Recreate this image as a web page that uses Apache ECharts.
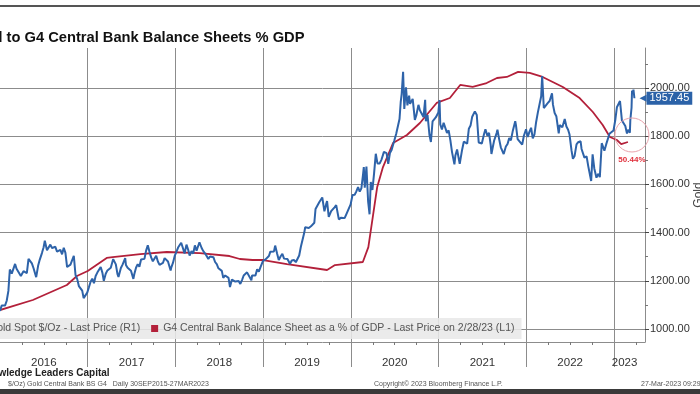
<!DOCTYPE html>
<html><head><meta charset="utf-8">
<script src="https://cdn.jsdelivr.net/npm/echarts@6/dist/echarts.min.js"></script>
<style>html,body{margin:0;padding:0;background:#fff;}#c{width:700px;height:394px;}</style>
</head><body><div id="c"></div>
<script>
// Gold spot $/oz (right axis)
const goldSpot = [
['2016-01-01',1075],['2016-01-08',1097],['2016-01-15',1090],['2016-01-22',1097],['2016-01-29',1117],['2016-02-05',1158],['2016-02-11',1247],['2016-02-19',1230],['2016-02-26',1222],['2016-03-04',1270],['2016-03-10',1250],['2016-03-18',1255],['2016-03-28',1220],['2016-04-08',1240],['2016-04-15',1234],['2016-04-22',1232],['2016-04-29',1291],['2016-05-06',1290],['2016-05-13',1272],['2016-05-20',1252],['2016-05-31',1215],['2016-06-08',1262],['2016-06-15',1288],['2016-06-24',1315],['2016-07-01',1339],['2016-07-06',1366],['2016-07-15',1327],['2016-07-22',1322],['2016-07-29',1350],['2016-08-05',1336],['2016-08-12',1335],['2016-08-19',1341],['2016-08-26',1321],['2016-09-02',1324],['2016-09-09',1328],['2016-09-16',1310],['2016-09-23',1337],['2016-09-30',1316],['2016-10-07',1257],['2016-10-14',1251],['2016-10-21',1267],['2016-10-28',1274],['2016-11-04',1304],['2016-11-11',1225],['2016-11-18',1208],['2016-11-25',1178],['2016-12-02',1177],['2016-12-09',1159],['2016-12-15',1128],['2016-12-23',1132],['2016-12-30',1151],
['2017-01-06',1173],['2017-01-13',1196],['2017-01-20',1209],['2017-01-27',1190],['2017-02-03',1220],['2017-02-10',1234],['2017-02-17',1238],['2017-02-24',1257],['2017-03-03',1234],['2017-03-09',1200],['2017-03-17',1229],['2017-03-24',1243],['2017-03-31',1249],['2017-04-07',1254],['2017-04-17',1290],['2017-04-21',1284],['2017-04-28',1268],['2017-05-05',1227],['2017-05-09',1216],['2017-05-19',1253],['2017-05-26',1267],['2017-06-06',1294],['2017-06-09',1266],['2017-06-16',1254],['2017-06-23',1256],['2017-06-30',1242],['2017-07-10',1208],['2017-07-14',1228],['2017-07-21',1254],['2017-07-28',1269],['2017-08-04',1258],['2017-08-11',1288],['2017-08-18',1285],['2017-08-25',1291],['2017-09-01',1325],['2017-09-08',1347],['2017-09-15',1320],['2017-09-22',1297],['2017-09-29',1281],['2017-10-06',1275],['2017-10-13',1304],['2017-10-20',1280],['2017-10-27',1266],['2017-11-03',1269],['2017-11-10',1274],['2017-11-17',1294],['2017-11-24',1288],['2017-12-01',1280],['2017-12-12',1243],['2017-12-15',1256],['2017-12-22',1275],['2017-12-29',1303],
['2018-01-05',1320],['2018-01-12',1338],['2018-01-19',1332],['2018-01-25',1358],['2018-02-02',1333],['2018-02-08',1313],['2018-02-16',1350],['2018-02-23',1329],['2018-03-01',1305],['2018-03-09',1323],['2018-03-16',1313],['2018-03-23',1347],['2018-03-30',1325],['2018-04-11',1360],['2018-04-20',1336],['2018-04-27',1323],['2018-05-04',1314],['2018-05-11',1319],['2018-05-18',1291],['2018-05-25',1301],['2018-06-01',1294],['2018-06-08',1298],['2018-06-15',1278],['2018-06-22',1269],['2018-06-29',1252],['2018-07-06',1255],['2018-07-13',1241],['2018-07-19',1212],['2018-07-27',1222],['2018-08-03',1214],['2018-08-10',1212],['2018-08-16',1174],['2018-08-24',1205],['2018-08-31',1200],['2018-09-07',1197],['2018-09-14',1193],['2018-09-21',1199],['2018-09-28',1187],['2018-10-05',1203],['2018-10-12',1222],['2018-10-19',1227],['2018-10-26',1235],['2018-11-02',1232],['2018-11-13',1202],['2018-11-16',1222],['2018-11-23',1222],['2018-11-30',1222],['2018-12-07',1248],['2018-12-14',1238],['2018-12-21',1257],['2018-12-31',1282],
['2019-01-04',1285],['2019-01-11',1289],['2019-01-18',1281],['2019-01-25',1303],['2019-01-31',1321],['2019-02-08',1314],['2019-02-15',1322],['2019-02-20',1346],['2019-02-28',1313],['2019-03-07',1286],['2019-03-15',1302],['2019-03-22',1312],['2019-03-29',1292],['2019-04-05',1292],['2019-04-12',1290],['2019-04-23',1270],['2019-04-30',1284],['2019-05-10',1286],['2019-05-17',1277],['2019-05-24',1285],['2019-05-31',1305],['2019-06-07',1341],['2019-06-14',1341],['2019-06-21',1399],['2019-06-25',1422],['2019-07-03',1419],['2019-07-10',1419],['2019-07-19',1426],['2019-07-26',1419],['2019-08-02',1441],['2019-08-07',1498],['2019-08-13',1502],['2019-08-23',1527],['2019-08-30',1520],['2019-09-04',1546],['2019-09-13',1488],['2019-09-20',1517],['2019-09-24',1531],['2019-10-01',1465],['2019-10-11',1489],['2019-10-18',1490],['2019-10-25',1505],['2019-11-01',1514],['2019-11-12',1455],['2019-11-22',1462],['2019-11-29',1463],['2019-12-06',1460],['2019-12-13',1476],['2019-12-20',1478],['2019-12-31',1517],
['2020-01-08',1556],['2020-01-10',1560],['2020-01-17',1557],['2020-01-24',1571],['2020-01-31',1589],['2020-02-07',1570],['2020-02-14',1584],['2020-02-21',1643],['2020-02-24',1672],['2020-02-28',1586],['2020-03-06',1674],['2020-03-09',1675],['2020-03-13',1530],['2020-03-19',1476],['2020-03-24',1610],['2020-03-31',1577],['2020-04-07',1647],['2020-04-14',1727],['2020-04-21',1687],['2020-04-30',1687],['2020-05-08',1703],['2020-05-18',1735],['2020-05-22',1735],['2020-05-29',1730],['2020-06-05',1685],['2020-06-12',1730],['2020-06-19',1743],['2020-06-30',1781],['2020-07-08',1809],['2020-07-15',1810],['2020-07-22',1871],['2020-07-27',1941],['2020-07-31',1975],['2020-08-06',2067],['2020-08-11',1913],['2020-08-18',2003],['2020-08-24',1928],['2020-08-31',1968],['2020-09-04',1934],['2020-09-15',1955],['2020-09-24',1868],['2020-09-30',1886],['2020-10-09',1930],['2020-10-15',1908],['2020-10-23',1902],['2020-10-30',1879],['2020-11-06',1951],['2020-11-09',1862],['2020-11-16',1888],['2020-11-24',1805],['2020-11-30',1776],['2020-12-07',1862],['2020-12-15',1855],['2020-12-21',1879],['2020-12-31',1898],
['2021-01-05',1950],['2021-01-08',1849],['2021-01-15',1828],['2021-01-22',1856],['2021-01-29',1848],['2021-02-05',1814],['2021-02-12',1824],['2021-02-19',1784],['2021-02-26',1734],['2021-03-08',1683],['2021-03-12',1720],['2021-03-19',1745],['2021-03-30',1685],['2021-04-09',1744],['2021-04-16',1777],['2021-04-23',1777],['2021-04-30',1769],['2021-05-07',1831],['2021-05-14',1844],['2021-05-21',1881],['2021-06-01',1903],['2021-06-09',1888],['2021-06-17',1774],['2021-06-25',1781],['2021-06-30',1770],['2021-07-09',1808],['2021-07-15',1829],['2021-07-23',1802],['2021-07-30',1814],['2021-08-06',1763],['2021-08-09',1726],['2021-08-20',1781],['2021-08-31',1814],['2021-09-03',1827],['2021-09-10',1788],['2021-09-17',1754],['2021-09-29',1726],['2021-10-08',1757],['2021-10-15',1768],['2021-10-22',1792],['2021-10-29',1783],['2021-11-05',1818],['2021-11-16',1862],['2021-11-19',1846],['2021-11-26',1788],['2021-12-03',1783],['2021-12-15',1765],['2021-12-22',1802],['2021-12-31',1829],
['2022-01-07',1797],['2022-01-14',1818],['2022-01-21',1835],['2022-01-28',1791],['2022-02-04',1808],['2022-02-11',1859],['2022-02-18',1898],['2022-02-24',1904],['2022-03-04',1966],['2022-03-08',2050],['2022-03-15',1917],['2022-03-22',1921],['2022-03-31',1937],['2022-04-08',1946],['2022-04-18',1978],['2022-04-22',1931],['2022-04-29',1896],['2022-05-06',1883],['2022-05-16',1812],['2022-05-20',1846],['2022-05-31',1837],['2022-06-10',1871],['2022-06-17',1840],['2022-06-24',1827],['2022-06-30',1807],['2022-07-08',1742],['2022-07-14',1706],['2022-07-21',1718],['2022-07-29',1766],['2022-08-05',1775],['2022-08-15',1779],['2022-08-19',1747],['2022-08-31',1711],['2022-09-09',1716],['2022-09-16',1675],['2022-09-28',1614],['2022-10-04',1725],['2022-10-11',1666],['2022-10-20',1628],['2022-10-28',1644],['2022-11-03',1630],['2022-11-11',1771],['2022-11-15',1776],['2022-11-22',1740],['2022-11-30',1768],['2022-12-09',1797],['2022-12-13',1810],['2022-12-21',1814],['2022-12-30',1824],
['2023-01-06',1865],['2023-01-13',1920],['2023-01-20',1926],['2023-01-26',1946],['2023-02-01',1950],['2023-02-03',1865],['2023-02-10',1865],['2023-02-17',1842],['2023-02-24',1811],['2023-02-28',1827],['2023-03-08',1814],['2023-03-10',1868],['2023-03-15',1918],['2023-03-17',1989],['2023-03-20',1980],['2023-03-23',1993],['2023-03-27',1957.45]
];

// G4 central bank balance sheet as % of GDP (left axis, hidden)
const bsPctGdp = [
['2016-01-01',30.72],['2016-05-17',31.90],['2016-10-06',33.66],['2016-11-17',34.71],['2017-01-01',35.30],['2017-03-21',36.83],['2017-04-15',36.94],['2017-08-08',37.29],['2017-11-26',37.53],['2018-04-12',37.41],['2018-08-14',37.06],['2018-09-26',36.71],['2018-11-18',36.59],['2019-01-01',36.59],['2019-04-10',36.12],['2019-09-24',35.42],['2019-10-27',36.00],['2020-02-20',36.36],['2020-03-14',38.10],['2020-04-20',45.16],['2020-05-14',47.50],['2020-06-25',50.32],['2020-08-22',51.26],['2020-10-15',52.67],['2020-12-24',55.02],['2021-02-17',55.60],['2021-04-01',57.13],['2021-05-23',56.90],['2021-07-20',57.36],['2021-09-01',57.95],['2021-10-12',58.07],['2021-11-28',58.66],['2022-01-15',58.54],['2022-03-10',58.07],['2022-06-02',56.90],['2022-08-11',55.60],['2022-10-05',53.96],['2022-11-15',52.44],['2022-12-15',51.03],['2023-01-13',50.67],['2023-01-31',50.20],['2023-02-28',50.44]
];

const yearLabels = ['2016','2017','2018','2019','2020','2021','2022','2023'];
const goldTicks = [1000,1200,1400,1600,1800,2000];
const goldMinorTicks = [1100,1300,1500,1700,1900,2100];
const xStart = '2016-01-01';
const xEnd = '2023-05-10';

function toYear(s){
  const p = s.split('-').map(Number);
  const t = Date.UTC(p[0],p[1]-1,p[2]);
  const t0 = Date.UTC(p[0],0,1), t1 = Date.UTC(p[0]+1,0,1);
  return p[0] + (t - t0)/(t1 - t0);
}
const xMin = toYear(xStart), xMax = toYear(xEnd);
const goldXY = goldSpot.map(d => [toYear(d[0]), d[1]]);
const bsXY = bsPctGdp.map(d => [toYear(d[0]), d[1]]);
const lastGold = goldXY[goldXY.length-1];
const lastBs = bsXY[bsXY.length-1];
const yearBounds = yearLabels.slice(1).map(Number);
const yearLabelPos = yearLabels.map((y,i) => i < yearLabels.length-1 ? Number(y)+0.5 : Number(y)+0.12);

const GRID = '#8c8c8c';
const FONT = 'Liberation Sans';
const chart = echarts.init(document.getElementById('c'), null, {renderer:'canvas'});
chart.setOption({
  animation:false,
  backgroundColor:'#ffffff',
  textStyle:{fontFamily:FONT},
  title:[
    {text:'Gold to G4 Central Bank Balance Sheets % GDP', left:-31, top:30, padding:0,
     textStyle:{fontSize:14.7, fontWeight:'bold', color:'#111', fontFamily:FONT}},
    {text:'Knowledge Leaders Capital', left:-21, top:368, padding:0,
     textStyle:{fontSize:10, fontWeight:'bold', color:'#222', fontFamily:FONT}},
    {text:'$/Oz) Gold Central Bank BS G4   Daily 30SEP2015-27MAR2023', left:8, top:381, padding:0,
     textStyle:{fontSize:7, fontWeight:'normal', color:'#555', fontFamily:FONT}},
    {text:'Copyright\u00a9 2023 Bloomberg Finance L.P.', left:374, top:381, padding:0,
     textStyle:{fontSize:7, fontWeight:'normal', color:'#555', fontFamily:FONT}},
    {text:'27-Mar-2023 09:29:52', left:641, top:381, padding:0,
     textStyle:{fontSize:7, fontWeight:'normal', color:'#555', fontFamily:FONT}}
  ],
  graphic:[
    {type:'rect', shape:{x:0,y:5,width:700,height:2}, style:{fill:'#555'}},
    {type:'rect', shape:{x:0,y:389,width:700,height:5}, style:{fill:'#3a3a3a'}}
  ],
  legend:{
    left:-30, top:318, padding:[5,7,5,7], itemGap:11, itemWidth:7, itemHeight:7, icon:'rect',
    backgroundColor:'rgba(232,232,232,0.88)',
    textStyle:{fontSize:10.5, color:'#555', fontFamily:FONT},
    data:['Gold Spot $/Oz - Last Price (R1)','G4 Central Bank Balance Sheet as a % of GDP - Last Price on 2/28/23 (L1)']
  },
  grid:{left:0, right:55, top:48, bottom:52, containLabel:false, outerBoundsMode:'none'},
  xAxis:[
    {type:'value', min:xMin, max:xMax, position:'bottom',
     axisLine:{show:true, onZero:false, lineStyle:{color:GRID}},
     axisTick:{show:true, length:25, customValues:yearBounds, lineStyle:{color:GRID}},
     axisLabel:{show:false},
     splitLine:{show:true, lineStyle:{color:GRID, width:1}}},
    {type:'value', min:xMin, max:xMax, position:'bottom', interval:1,
     axisLine:{show:false},
     axisTick:{show:false},
     minorTick:{show:true, splitNumber:4, length:3, lineStyle:{color:'#777'}},
     axisLabel:{show:true, customValues:yearLabelPos, margin:15, fontSize:11.5, color:'#333',
                formatter:v => String(Math.floor(v))},
     splitLine:{show:false}}
  ],
  yAxis:[
    {type:'value', position:'right', min:946, max:2166, name:'Gold', nameLocation:'middle', nameRotate:90, nameGap:48,
     nameMoveOverlap:false,
     nameTextStyle:{fontSize:12, color:'#444', fontFamily:FONT},
     axisLine:{show:true, lineStyle:{color:GRID}},
     axisTick:{show:true, length:4, customValues:goldTicks, lineStyle:{color:'#444'}},
     axisLabel:{show:true, customValues:goldTicks, margin:5, fontSize:11, color:'#333', formatter:v => v.toFixed(2)},
     splitLine:{show:true, lineStyle:{color:GRID, width:1}}},
    {type:'value', position:'right', offset:0, min:946, max:2166,
     axisLine:{show:false},
     axisTick:{show:true, length:3, customValues:goldMinorTicks, lineStyle:{color:'#777'}},
     axisLabel:{show:false}, splitLine:{show:false}},
    {type:'value', position:'left', min:26.97, max:61.47, show:false, splitLine:{show:false}}
  ],
  series:[
    {name:'Gold Spot $/Oz - Last Price (R1)', type:'line', xAxisIndex:0, yAxisIndex:0, data:goldXY,
     showSymbol:false, symbol:'none', color:'#2e63a9', lineStyle:{color:'#2e63a9', width:2}, z:4,
     markPoint:{symbol:'triangle', symbolSize:[7,7], symbolRotate:90, symbolOffset:[-2,0], silent:true,
       data:[{coord:[xMax, lastGold[1]], value:lastGold[1],
         itemStyle:{color:'#2b62a8'},
         label:{show:true, position:'right', distance:0, formatter:p => p.value.toFixed(2),
                backgroundColor:'#2b62a8', color:'#fff', fontSize:11, padding:[1,3,1,3], fontFamily:FONT}}]}},
    {name:'G4 Central Bank Balance Sheet as a % of GDP - Last Price on 2/28/23 (L1)', type:'line', xAxisIndex:0, yAxisIndex:2, data:bsXY,
     showSymbol:false, symbol:'none', color:'#b3203a', lineStyle:{color:'#b3203a', width:1.8}, z:3,
     markPoint:{silent:true,
       data:[{coord:lastBs, value:lastBs[1], symbol:'circle', symbolSize:34, symbolOffset:[4,-7],
         itemStyle:{color:'rgba(255,255,255,0)', borderColor:'#e9a3ac', borderWidth:1},
         label:{show:true, position:'bottom', distance:3, formatter:p => p.value.toFixed(2)+'%',
                color:'#e0303c', fontSize:8, fontWeight:'bold', fontFamily:FONT}}]}}
  ]
});
</script></body></html>
